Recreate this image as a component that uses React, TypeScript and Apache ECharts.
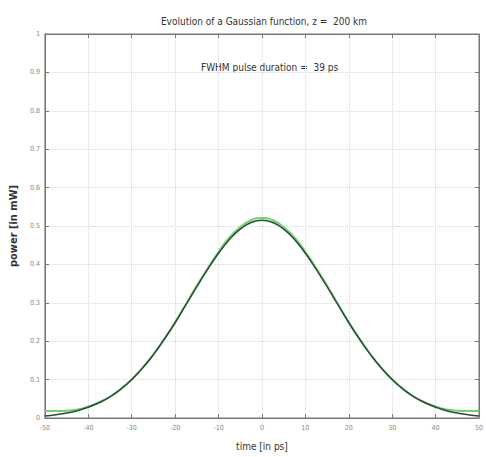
import React, { useEffect, useRef } from "react";
import * as echarts from "echarts";

const timePs = [
  -50, -47.5, -45, -42.5, -40, -37.5, -35, -32.5, -30, -27.5, -25, -22.5, -20, -17.5, -15, -12.5, -10, -7.5, -5, -2.5,
  0, 2.5, 5, 7.5, 10, 12.5, 15, 17.5, 20, 22.5, 25, 27.5, 30, 32.5, 35, 37.5, 40, 42.5, 45, 47.5, 50,
];
const powerInitial = [
  0.0054, 0.0084, 0.013, 0.019, 0.028, 0.04, 0.055, 0.075, 0.1, 0.13, 0.165, 0.205, 0.248, 0.295, 0.342, 0.387, 0.429,
  0.465, 0.492, 0.509, 0.515, 0.509, 0.492, 0.465, 0.429, 0.387, 0.342, 0.295, 0.248, 0.205, 0.165, 0.13, 0.1, 0.075,
  0.055, 0.04, 0.028, 0.019, 0.013, 0.0084, 0.0054,
];
const powerEvolved = [
  0.018, 0.018, 0.019, 0.022, 0.03, 0.041, 0.056, 0.076, 0.101, 0.131, 0.166, 0.206, 0.25, 0.297, 0.345, 0.39, 0.433,
  0.47, 0.497, 0.515, 0.521, 0.515, 0.497, 0.47, 0.433, 0.39, 0.345, 0.297, 0.25, 0.206, 0.166, 0.131, 0.101, 0.076,
  0.056, 0.041, 0.03, 0.022, 0.019, 0.018, 0.018,
];

const titleText = "Evolution of a Gaussian function, z =  200 km";
const annotationText = "FWHM pulse duration =  39 ps";
const xLabel = "time [in ps]";
const yLabel = "power [in mW]";

const FONT = "'Liberation Sans Narrow', 'DejaVu Sans Condensed', 'Liberation Sans', Arial, sans-serif";

export default function App() {
  const ref = useRef<HTMLDivElement>(null);
  useEffect(() => {
    if (!ref.current) return;
    const chart = echarts.init(ref.current, null, { renderer: "svg" });
    const tickCommon = { inside: true, length: 4, lineStyle: { color: "#777" } };
    const lineCommon = { show: true, onZero: false, lineStyle: { color: "#777" } };
    const splitCommon = { show: true, lineStyle: { color: "#d8d8d8", type: "dotted" as const, width: 1 } };
    chart.setOption({
      animation: false,
      backgroundColor: "#ffffff",
      grid: { left: 36, right: 4, top: 34, bottom: 39, show: true, borderColor: "#777", borderWidth: 1 },
      title: {
        text: titleText,
        left: 259,
        textAlign: "center",
        top: 11,
        textStyle: { fontFamily: FONT, fontSize: 10, fontWeight: "normal", color: "#333" },
      },
      graphic: [
        {
          type: "text",
          left: 201,
          top: 62,
          style: { text: annotationText, font: `10px ${FONT}`, fill: "#333" },
        },
      ],
      xAxis: [
        {
          type: "value",
          min: -50,
          max: 50,
          interval: 10,
          name: xLabel,
          nameLocation: "middle",
          nameGap: 23,
          nameTextStyle: { fontFamily: FONT, fontSize: 10, color: "#333" },
          axisLine: lineCommon,
          axisTick: tickCommon,
          axisLabel: { fontFamily: FONT, fontSize: 7, color: "#888", margin: 6 },
          splitLine: splitCommon,
        },
        {
          type: "value",
          position: "top",
          min: -50,
          max: 50,
          interval: 10,
          axisLine: lineCommon,
          axisTick: tickCommon,
          axisLabel: { show: false },
          splitLine: { show: false },
        },
      ],
      yAxis: [
        {
          type: "value",
          min: 0,
          max: 1,
          interval: 0.1,
          name: yLabel,
          nameLocation: "middle",
          nameGap: 17,
          nameTextStyle: { fontFamily: FONT, fontSize: 11, fontWeight: "bold", color: "#333" },
          axisLine: lineCommon,
          axisTick: tickCommon,
          axisLabel: {
            fontFamily: FONT,
            fontSize: 7,
            color: "#888",
            margin: 5,
            formatter: (v: number) => (Math.round(v * 10) / 10).toString(),
          },
          splitLine: splitCommon,
        },
        {
          type: "value",
          position: "right",
          min: 0,
          max: 1,
          interval: 0.1,
          axisLine: lineCommon,
          axisTick: tickCommon,
          axisLabel: { show: false },
          splitLine: { show: false },
        },
      ],
      series: [
        {
          type: "line",
          name: "evolved",
          data: timePs.map((t, i) => [t, powerEvolved[i]]),
          showSymbol: false,
          smooth: true,
          lineStyle: { color: "#6fd36f", width: 2 },
          z: 2,
        },
        {
          type: "line",
          name: "initial",
          data: timePs.map((t, i) => [t, powerInitial[i]]),
          showSymbol: false,
          smooth: true,
          lineStyle: { color: "#2e4a3c", width: 1.5 },
          z: 3,
        },
      ],
    });
    return () => chart.dispose();
  }, []);
  return (
    <div
      ref={ref}
      style={{ position: "fixed", left: 0, top: 0, width: 486, height: 457, background: "#fff" }}
    />
  );
}
